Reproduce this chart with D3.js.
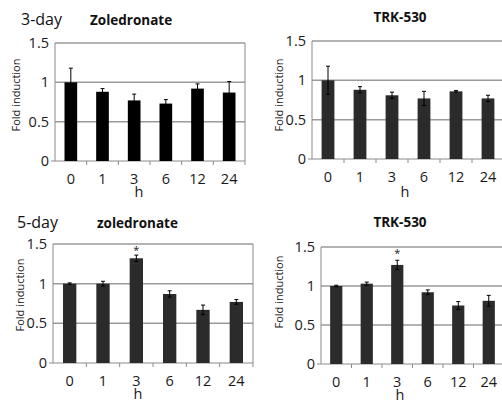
<!DOCTYPE html>
<html lang="en">
<head>
<meta charset="UTF-8">
<title>Fold induction</title>
<script src="https://d3js.org/d3.v7.min.js"></script>
<style>
    body { margin: 0; background: #fff; font-family: "Open Sans", sans-serif; }
    svg { display: block; }
</style>
</head>
<body>
<svg id="chart" width="502" height="400"></svg>
<script>
// data
const hours = ["0", "1", "3", "6", "12", "24"];
const yTicks = [0, 0.5, 1, 1.5];

const zol3Values = [1.0, 0.88, 0.77, 0.73, 0.92, 0.87];
const zol3Errors = [0.18, 0.04, 0.08, 0.05, 0.06, 0.14];
const trk3Values = [1.0, 0.88, 0.81, 0.77, 0.86, 0.77];
const trk3Errors = [0.18, 0.04, 0.04, 0.09, 0.01, 0.04];
const zol5Values = [1.0, 1.0, 1.32, 0.87, 0.67, 0.77];
const zol5Errors = [0.01, 0.03, 0.04, 0.04, 0.06, 0.03];
const trk5Values = [1.0, 1.03, 1.27, 0.92, 0.75, 0.81];
const trk5Errors = [0.01, 0.02, 0.06, 0.03, 0.05, 0.07];

const panels = [
    { values: zol3Values, errors: zol3Errors, x: [55, 245], y: [161, 43], fill: "#000", border: true,
      day: "3-day", dayX: 21, drug: "Zoledronate", drugX: 90, drugAnchor: "start", titleY: 25,
      labelX: 20, labelY: 95, hX: 139, hY: 197, star: null },
    { values: trk3Values, errors: trk3Errors, x: [312, 504], y: [159, 41], fill: "#2b2b2b", border: false,
      day: null, drug: "TRK-530", drugX: 400, drugAnchor: "middle", titleY: 22,
      labelX: 283, labelY: 95, hX: 405, hY: 197, star: null },
    { values: zol5Values, errors: zol5Errors, x: [53, 253], y: [363, 244], fill: "#2b2b2b", border: true,
      day: "5-day", dayX: 17, drug: "zoledronate", drugX: 97, drugAnchor: "start", titleY: 228,
      labelX: 24, labelY: 295, hX: 138, hY: 399, star: "3" },
    { values: trk5Values, errors: trk5Errors, x: [321, 504], y: [364, 247], fill: "#2b2b2b", border: false,
      day: null, drug: "TRK-530", drugX: 400, drugAnchor: "middle", titleY: 227,
      labelX: 283, labelY: 292, hX: 400, hY: 400, star: "3" }
];

const svg = d3.select("#chart");

panels.forEach(p => {
    const x = d3.scaleBand().domain(hours).range(p.x).paddingInner(0.6).paddingOuter(0.3);
    const y = d3.scaleLinear().domain([0, 1.5]).range(p.y);
    const g = svg.append("g");

    // grid lines
    g.selectAll("line.grid").data(yTicks.filter(t => t > 0)).enter().append("line")
        .attr("class", "grid")
        .attr("x1", p.x[0]).attr("x2", p.x[1])
        .attr("y1", d => y(d)).attr("y2", d => y(d))
        .attr("stroke", "#9a9a9a").attr("stroke-width", 1.5);

    // plot area border
    g.append("line").attr("x1", p.x[0]).attr("x2", p.x[0]).attr("y1", y(1.5)).attr("y2", y(0))
        .attr("stroke", "#8a8a8a");
    if (p.border) {
        g.append("line").attr("x1", p.x[1]).attr("x2", p.x[1]).attr("y1", y(1.5)).attr("y2", y(0))
            .attr("stroke", "#8a8a8a");
    }

    // x axis
    const xAxis = d3.axisBottom(x).tickSize(0).tickPadding(13);
    const ax = g.append("g").attr("transform", `translate(0,${y(0)})`).call(xAxis);
    ax.select(".domain").attr("stroke", "#8a8a8a").attr("d", `M${p.x[0] - 4},0H${p.x[1]}`);
    ax.selectAll("text").attr("font-size", 14.5).attr("fill", "#1a1a1a")
        .attr("font-family", "'Open Sans', sans-serif");
    // tick marks between categories
    const bounds = d3.range(1, hours.length + (p.border ? 1 : 0)).map(i => p.x[0] + (p.x[1] - p.x[0]) * i / hours.length);
    g.selectAll("line.xt").data(bounds).enter().append("line")
        .attr("x1", d => d).attr("x2", d => d)
        .attr("y1", y(0)).attr("y2", y(0) + 4)
        .attr("stroke", "#8a8a8a");

    // y axis labels
    const yAxis = d3.axisLeft(y).tickValues(yTicks).tickSize(0).tickPadding(6).tickFormat(d3.format("~g"));
    const ay = g.append("g").attr("transform", `translate(${p.x[0]},0)`).call(yAxis);
    ay.select(".domain").remove();
    ay.selectAll("text").attr("font-size", 14.5).attr("fill", "#1a1a1a")
        .attr("font-family", "'Open Sans', sans-serif");

    // bars
    g.selectAll("rect.bar").data(p.values).enter().append("rect")
        .attr("class", "bar")
        .attr("x", (d, i) => x(hours[i]))
        .attr("width", x.bandwidth())
        .attr("y", d => y(d))
        .attr("height", d => y(0) - y(d))
        .attr("fill", p.fill);

    // error bars
    const eb = g.selectAll("g.err").data(p.values).enter().append("g")
        .attr("transform", (d, i) => `translate(${x(hours[i]) + x.bandwidth() / 2},0)`);
    eb.append("line")
        .attr("y1", (d, i) => y(d - p.errors[i])).attr("y2", (d, i) => y(d + p.errors[i]))
        .attr("stroke", "#000").attr("stroke-width", 1);
    eb.append("line")
        .attr("x1", -2).attr("x2", 2)
        .attr("y1", (d, i) => y(d + p.errors[i])).attr("y2", (d, i) => y(d + p.errors[i]))
        .attr("stroke", "#000").attr("stroke-width", 1);
    eb.append("line")
        .attr("x1", -2).attr("x2", 2)
        .attr("y1", (d, i) => y(d - p.errors[i])).attr("y2", (d, i) => y(d - p.errors[i]))
        .attr("stroke", "#000").attr("stroke-width", 1);

    // significance star
    if (p.star) {
        g.append("text")
            .attr("x", x(p.star) + x.bandwidth() / 2)
            .attr("y", y(1.5) + 10)
            .attr("text-anchor", "middle")
            .attr("font-size", 11).attr("fill", "#222")
            .text("*");
    }

    // titles
    if (p.day) {
        g.append("text").attr("x", p.dayX).attr("y", p.titleY)
            .attr("font-size", 16).attr("fill", "#111").text(p.day);
    }
    g.append("text").attr("x", p.drugX).attr("y", p.titleY)
        .attr("text-anchor", p.drugAnchor)
        .attr("font-size", 13.5).attr("font-weight", "bold").attr("fill", "#111")
        .text(p.drug);

    // axis titles
    g.append("text")
        .attr("transform", `translate(${p.labelX},${p.labelY}) rotate(-90)`)
        .attr("text-anchor", "middle")
        .attr("font-size", 11).attr("fill", "#222")
        .text("Fold induction");
    g.append("text").attr("x", p.hX).attr("y", p.hY)
        .attr("text-anchor", "middle")
        .attr("font-size", 14.5).attr("fill", "#1a1a1a")
        .text("h");
});
</script>
</body>
</html>
